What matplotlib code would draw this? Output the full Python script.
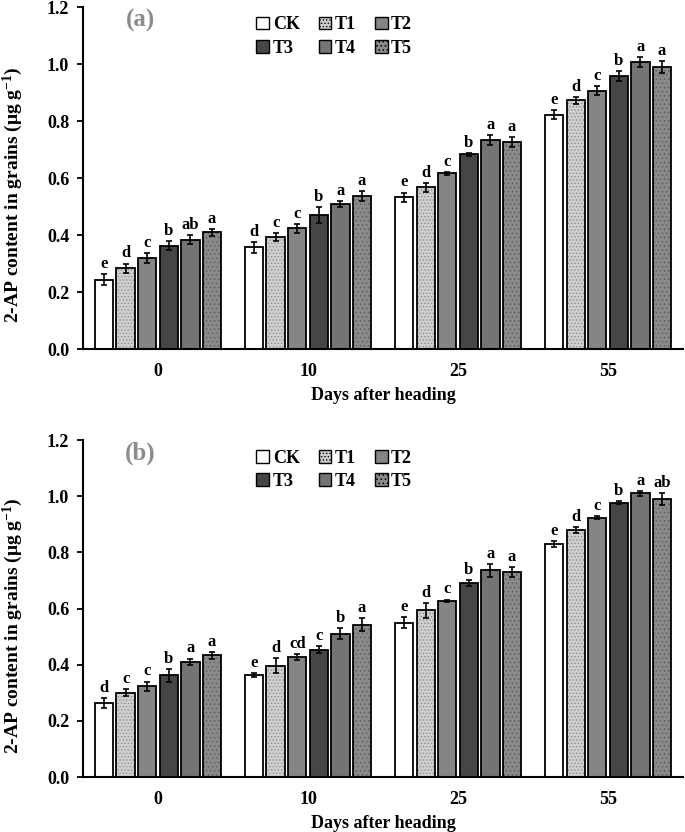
import numpy as np
import matplotlib
matplotlib.use('Agg')
import matplotlib.pyplot as plt
from matplotlib.patches import Patch

plt.rcParams['font.family'] = 'Liberation Serif'
plt.rcParams['font.weight'] = 'bold'
plt.rcParams['mathtext.fontset'] = 'custom'
plt.rcParams['mathtext.rm'] = 'Liberation Serif:bold'
plt.rcParams['mathtext.bf'] = 'Liberation Serif:bold'
plt.rcParams['mathtext.default'] = 'rm'
plt.rcParams['hatch.linewidth'] = 0.6

days = ['0', '10', '25', '55']
treatments = ['CK', 'T1', 'T2', 'T3', 'T4', 'T5']

# panel (a)
a_vals = [[0.243, 0.357, 0.533, 0.823],
          [0.283, 0.393, 0.567, 0.873],
          [0.320, 0.423, 0.617, 0.907],
          [0.363, 0.470, 0.683, 0.957],
          [0.383, 0.510, 0.733, 1.007],
          [0.410, 0.537, 0.727, 0.990]]
a_err = [[0.020, 0.020, 0.016, 0.017],
         [0.017, 0.015, 0.016, 0.012],
         [0.018, 0.017, 0.005, 0.017],
         [0.016, 0.027, 0.005, 0.017],
         [0.016, 0.010, 0.017, 0.017],
         [0.012, 0.017, 0.017, 0.020]]
a_letters = [['e', 'd', 'e', 'e'],
             ['d', 'c', 'd', 'd'],
             ['c', 'c', 'c', 'c'],
             ['b', 'b', 'b', 'b'],
             ['ab', 'a', 'a', 'a'],
             ['a', 'a', 'a', 'a']]

# panel (b)
b_vals = [[0.263, 0.363, 0.550, 0.830],
          [0.300, 0.397, 0.593, 0.880],
          [0.323, 0.427, 0.627, 0.923],
          [0.363, 0.453, 0.690, 0.977],
          [0.410, 0.510, 0.737, 1.010],
          [0.433, 0.543, 0.730, 0.990]]
b_err = [[0.017, 0.007, 0.020, 0.010],
         [0.012, 0.027, 0.027, 0.010],
         [0.017, 0.012, 0.005, 0.005],
         [0.023, 0.012, 0.010, 0.005],
         [0.012, 0.020, 0.023, 0.010],
         [0.013, 0.023, 0.017, 0.020]]
b_letters = [['d', 'e', 'e', 'e'],
             ['c', 'd', 'd', 'd'],
             ['c', 'cd', 'c', 'c'],
             ['b', 'c', 'b', 'b'],
             ['a', 'b', 'a', 'a'],
             ['a', 'a', 'a', 'ab']]

face = ['white', '#cfcfcf', '#858585', '#464646', '#747474', '#8a8a8a']
hatches = [None, '.....', None, None, None, '....']
hatch_col = [None, '#8f8f8f', None, None, None, '#5e5e5e']

fig = plt.figure(figsize=(6.85, 8.32), dpi=100)
ax_a = fig.add_axes([0.1212, 0.5805, 0.876, 0.411])
ax_b = fig.add_axes([0.1212, 0.0661, 0.876, 0.405])

x = np.arange(len(days))
step = 0.144
w = 0.122


def draw(ax, vals, errs, letters, tag):
    for i in range(len(treatments)):
        pos = x + (i - 2.5) * step
        if hatches[i]:
            ax.bar(pos, vals[i], w, color=face[i], edgecolor=hatch_col[i],
                   hatch=hatches[i], linewidth=0)
        ax.bar(pos, vals[i], w, color=face[i] if not hatches[i] else 'none',
               edgecolor='black', linewidth=1.3)
        ax.errorbar(pos, vals[i], yerr=errs[i], fmt='none', ecolor='black',
                    elinewidth=1.2, capsize=2.5, capthick=1.2)
        for j in range(len(days)):
            ax.annotate(letters[i][j], (pos[j], vals[i][j] + errs[i][j]),
                        xytext=(0, 1.5), textcoords='offset points',
                        ha='center', va='bottom', fontsize=12, fontweight='bold')
    ax.set_xlim(-0.5, 3.5)
    ax.set_ylim(0, 1.2)
    ax.set_yticks(np.arange(0, 1.21, 0.2))
    ax.set_yticklabels(['%.1f' % v for v in np.arange(0, 1.21, 0.2)])
    ax.set_xticks(x)
    ax.set_xticklabels(days)
    ax.tick_params(axis='x', length=0, pad=10, labelsize=13)
    ax.tick_params(axis='y', length=4, width=1.3, labelsize=13, pad=6)
    for s in ['top', 'right']:
        ax.spines[s].set_visible(False)
    for s in ['left', 'bottom']:
        ax.spines[s].set_linewidth(1.5)
    ax.set_xlabel('Days after heading', fontsize=13, fontweight='bold', labelpad=5)
    ax.set_ylabel('2-AP content in grains (μg g$^{-1}$)', fontsize=14,
                  fontweight='bold')
    ax.yaxis.set_label_coords(-0.096, 0.45)
    ax.text(0.095, 0.96, tag, transform=ax.transAxes, fontsize=18,
            fontweight='bold', color='#8c8c8c', ha='center', va='center')
    handles = []
    for i in [0, 3, 1, 4, 2, 5]:
        handles.append(Patch(facecolor=face[i], edgecolor='black', linewidth=1.0,
                             hatch=hatches[i], label=treatments[i]))
    ax.legend(handles=handles, ncol=3, loc='upper left', bbox_to_anchor=(0.262, 1.02),
              frameon=False, handlelength=0.7, handleheight=0.7, handletextpad=0.2,
              columnspacing=1.05, labelspacing=0.35,
              prop={'family': 'Liberation Serif', 'weight': 'bold', 'size': 13})


draw(ax_a, a_vals, a_err, a_letters, '(a)')
draw(ax_b, b_vals, b_err, b_letters, '(b)')

fig.savefig('out.png', dpi=100)
